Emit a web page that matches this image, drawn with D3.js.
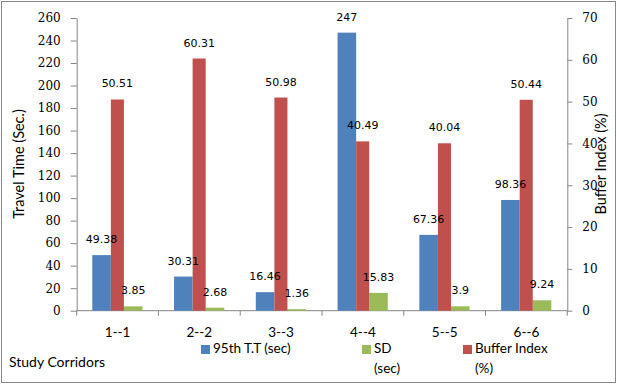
<!DOCTYPE html>
<html>
<head>
<meta charset="utf-8">
<script src="https://cdn.jsdelivr.net/npm/d3@7"></script>
<style>
  body { margin: 0; background: #fff; }
  svg { display: block; }
  .tick line, .domain { stroke: #868686; }
</style>
</head>
<body>
<div id="chart"></div>
<script>
// chart data
var categories = ["1--1", "2--2", "3--3", "4--4", "5--5", "6--6"];
var travelTime95 = [49.38, 30.31, 16.46, 247, 67.36, 98.36];
var sdSec = [3.85, 2.68, 1.36, 15.83, 3.9, 9.24];
var bufferIndex = [50.51, 60.31, 50.98, 40.49, 40.04, 50.44];
var leftTicks = [0, 20, 40, 60, 80, 100, 120, 140, 160, 180, 200, 220, 240, 260];
var rightTicks = [0, 10, 20, 30, 40, 50, 60, 70];

var width = 617, height = 384;
var plotLeft = 76.7, plotRight = 567.3, plotTop = 18, plotBottom = 310.7;
var blue = "#4F81BD", green = "#9BBB59", red = "#C0504D";

var svg = d3.select("#chart").append("svg")
  .attr("width", width).attr("height", height);

// outer frame
svg.append("rect").attr("x", 1.5).attr("y", 1.5)
  .attr("width", width - 3).attr("height", height - 3)
  .attr("fill", "#fff").attr("stroke", "#888").attr("stroke-width", 1);

var x0 = d3.scaleBand().domain(categories).range([plotLeft, plotRight]).padding(0);
var x1 = d3.scaleBand().domain(["tt", "sd"]).range([-25.3, 24.9]).paddingInner(0.413);
var yL = d3.scaleLinear().domain([0, 260]).range([plotBottom, plotTop]);
var yR = d3.scaleLinear().domain([0, 70]).range([plotBottom, plotTop]);

var center = function (c) { return x0(c) + x0.bandwidth() / 2; };
var redW = x1.step() - x1.bandwidth();
var redX = x1("tt") + x1.bandwidth();

// axes
var gl = svg.append("g").attr("transform", "translate(" + plotLeft + ",0)")
  .call(d3.axisLeft(yL).tickValues(leftTicks).tickSize(6).tickPadding(10).tickSizeOuter(0));
gl.selectAll("text").attr("font-family", "DejaVu Serif").attr("font-size", 12).attr("fill", "#000");

var gr = svg.append("g").attr("transform", "translate(" + plotRight + ",0)")
  .call(d3.axisRight(yR).tickValues(rightTicks).tickSize(5).tickPadding(10).tickSizeOuter(0));
gr.selectAll("text").attr("font-family", "DejaVu Serif").attr("font-size", 12).attr("fill", "#000");

var gb = svg.append("g").attr("transform", "translate(0," + plotBottom + ")");
gb.append("line").attr("x1", plotLeft).attr("x2", plotRight).attr("stroke", "#868686");
gb.selectAll("line.tk").data(categories.concat(["end"])).enter().append("line")
  .attr("class", "tk")
  .attr("x1", function (d) { return d === "end" ? plotRight : x0(d); })
  .attr("x2", function (d) { return d === "end" ? plotRight : x0(d); })
  .attr("y1", 0).attr("y2", 5).attr("stroke", "#868686");
gb.selectAll("text").data(categories).enter().append("text")
  .attr("x", center).attr("y", 26.5)
  .attr("text-anchor", "middle")
  .attr("font-family", "Lato").attr("font-size", 13.5)
  .text(function (d) { return d; });

// bars
var bars = svg.append("g");
bars.selectAll("rect.tt").data(categories).enter().append("rect")
  .attr("x", function (d) { return center(d) + x1("tt"); })
  .attr("width", x1.bandwidth())
  .attr("y", function (d, i) { return yL(travelTime95[i]); })
  .attr("height", function (d, i) { return plotBottom - yL(travelTime95[i]); })
  .attr("fill", blue);
bars.selectAll("rect.sd").data(categories).enter().append("rect")
  .attr("x", function (d) { return center(d) + x1("sd"); })
  .attr("width", x1.bandwidth())
  .attr("y", function (d, i) { return yL(sdSec[i]); })
  .attr("height", function (d, i) { return plotBottom - yL(sdSec[i]); })
  .attr("fill", green);
bars.selectAll("rect.bi").data(categories).enter().append("rect")
  .attr("x", function (d) { return center(d) + redX; })
  .attr("width", redW)
  .attr("y", function (d, i) { return yR(bufferIndex[i]); })
  .attr("height", function (d, i) { return plotBottom - yR(bufferIndex[i]); })
  .attr("fill", red);

// data labels
function labels(vals, scale, off, w) {
  svg.append("g").selectAll("text").data(categories).enter().append("text")
    .attr("x", function (d) { return center(d) + off + w / 2; })
    .attr("y", function (d, i) { return scale(vals[i]) - 12; })
    .attr("text-anchor", "middle")
    .attr("font-family", "DejaVu Sans").attr("font-size", 11)
    .text(function (d, i) { return vals[i]; });
}
labels(travelTime95, yL, x1("tt"), x1.bandwidth());
labels(sdSec, yL, x1("sd"), x1.bandwidth());
labels(bufferIndex, yR, redX, redW);

// axis titles
svg.append("text").attr("transform", "translate(24,164) rotate(-90)")
  .attr("text-anchor", "middle").attr("font-family", "Lato").attr("font-size", 14.5)
  .text("Travel Time (Sec.)");
svg.append("text").attr("transform", "translate(606,164) rotate(-90)")
  .attr("text-anchor", "middle").attr("font-family", "Lato").attr("font-size", 14.5)
  .text("Buffer Index (%)");
svg.append("text").attr("x", 9).attr("y", 367)
  .attr("font-family", "Lato").attr("font-size", 14)
  .text("Study Corridors");

// legend
var legendItems = [
  { lines: ["95th T.T (sec)"], color: blue, x: 201 },
  { lines: ["SD", "(sec)"], color: green, x: 362 },
  { lines: ["Buffer Index", "(%)"], color: red, x: 463 }
];
var lg = svg.append("g");
legendItems.forEach(function (it) {
  lg.append("rect").attr("x", it.x).attr("y", 345).attr("width", 9).attr("height", 9)
    .attr("fill", it.color);
  it.lines.forEach(function (ln, j) {
    lg.append("text").attr("x", it.x + 12).attr("y", 353 + j * 20)
      .attr("font-family", "Lato").attr("font-size", 13.5)
      .text(ln);
  });
});
</script>
</body>
</html>
